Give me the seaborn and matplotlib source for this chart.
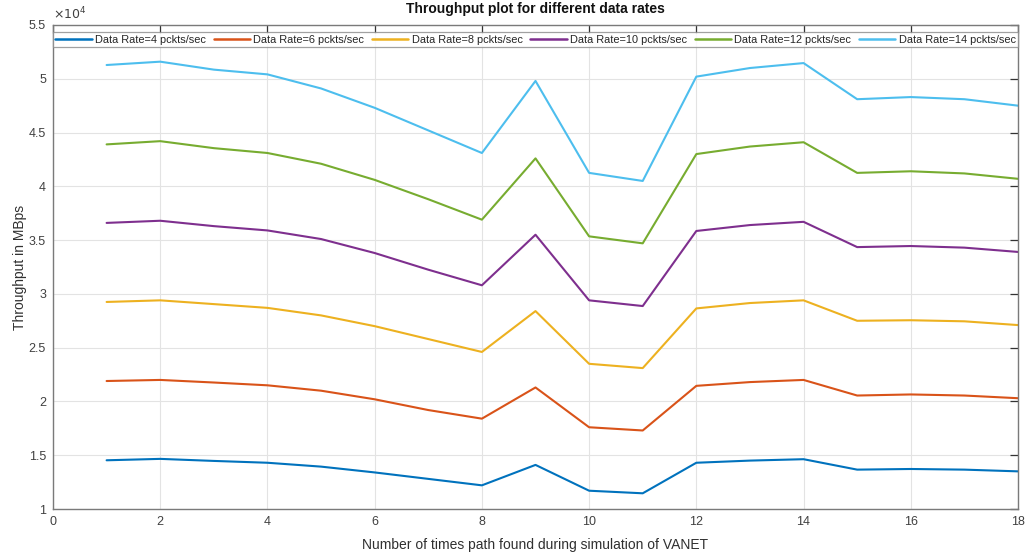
import numpy as np
import pandas as pd
import matplotlib
matplotlib.use("Agg")
import matplotlib.pyplot as plt
from matplotlib.ticker import FuncFormatter
import seaborn as sns

# Simulation runs (number of times a path was found)
runs = list(range(1, 19))

# Throughput (MBps) for each data rate
rate_4 = [14530, 14660, 14470, 14300, 13940, 13400, 12800, 12200, 14100,
          11700, 11460, 14300, 14500, 14630, 13660, 13720, 13660, 13500]
rate_6 = [21900, 22000, 21760, 21500, 21000, 20200, 19200, 18400, 21300,
          17600, 17300, 21450, 21800, 22000, 20550, 20650, 20550, 20300]
rate_8 = [29250, 29400, 29050, 28700, 28000, 27000, 25800, 24600, 28400,
          23500, 23100, 28650, 29150, 29400, 27500, 27550, 27450, 27100]
rate_10 = [36600, 36800, 36300, 35900, 35100, 33800, 32250, 30800, 35500,
           29400, 28870, 35850, 36400, 36700, 34350, 34450, 34300, 33900]
rate_12 = [43900, 44200, 43550, 43100, 42100, 40600, 38800, 36900, 42600,
           35350, 34700, 43000, 43700, 44100, 41250, 41400, 41200, 40700]
rate_14 = [51280, 51590, 50850, 50410, 49100, 47300, 45200, 43100, 49800,
           41250, 40500, 50200, 51000, 51460, 48100, 48300, 48100, 47500]

rate_names = ["Data Rate=4 pckts/sec", "Data Rate=6 pckts/sec",
              "Data Rate=8 pckts/sec", "Data Rate=10 pckts/sec",
              "Data Rate=12 pckts/sec", "Data Rate=14 pckts/sec"]
series = [rate_4, rate_6, rate_8, rate_10, rate_12, rate_14]
colors = ["#0072BD", "#D95319", "#EDB120", "#7E2F8E", "#77AC30", "#4DBEEE"]

x_ticks = list(range(0, 19, 2))
y_ticks = [10000, 15000, 20000, 25000, 30000, 35000, 40000, 45000, 50000, 55000]

df = pd.concat(
    [pd.DataFrame({"run": runs, "throughput": vals, "rate": name})
     for name, vals in zip(rate_names, series)],
    ignore_index=True,
)

sns.set_style("white")
plt.rcParams["font.family"] = ["Liberation Sans", "DejaVu Sans"]

fig = plt.figure(figsize=(10.31, 5.52), dpi=100)
ax = fig.add_axes([53 / 1031, 1 - 509 / 552, 965 / 1031, 484 / 552])

sns.lineplot(data=df, x="run", y="throughput", hue="rate",
             hue_order=rate_names, palette=colors, linewidth=1.5,
             ax=ax, legend=True)

ax.set_xlim(0, 18)
ax.set_ylim(10000, 55000)
ax.set_xticks(x_ticks)
ax.set_yticks(y_ticks)
ax.yaxis.set_major_formatter(FuncFormatter(lambda v, p: f"{v / 1e4:g}"))

edge = "#7a7a7a"
for s in ax.spines.values():
    s.set_visible(True)
    s.set_color(edge)
    s.set_linewidth(1.0)
ax.tick_params(axis="both", which="major", direction="in", length=6,
               width=0.9, color="#333333", labelsize=9, labelcolor="#404040",
               top=True, right=True, pad=5)
ax.grid(True, color="#e3e3e3", linewidth=0.8)
ax.set_axisbelow(True)

ax.text(0.0, 1.006, r"$\times 10^{4}$", transform=ax.transAxes,
        fontsize=9, color="#404040", ha="left", va="bottom")

ax.set_xlabel("Number of times path found during simulation of VANET",
              fontsize=10, color="#303030", labelpad=7)
ax.set_ylabel("Throughput in MBps", fontsize=10, color="#303030", labelpad=1)
ax.set_title("Throughput plot for different data rates", fontsize=10,
             fontweight="bold", color="#111111", pad=9)

handles, labels = ax.get_legend_handles_labels()
leg = ax.legend(handles, labels, loc="upper left", ncol=6, mode="expand",
                bbox_to_anchor=(0.0, 0.0, 1.0, 0.985), fontsize=7.9,
                frameon=True, fancybox=False, handlelength=3.3,
                handletextpad=0.3, borderpad=0.22, columnspacing=0.3,
                borderaxespad=0.0)
leg.get_frame().set_edgecolor("#8a8a8a")
leg.get_frame().set_linewidth(0.9)
for h in leg.get_lines():
    h.set_linewidth(1.8)

fig.savefig("out.png", dpi=100, facecolor="white")
